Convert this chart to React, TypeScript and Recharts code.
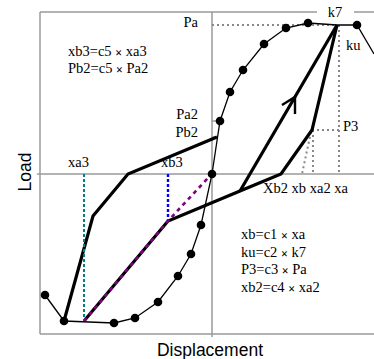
import React from "react";
import {
  ComposedChart,
  XAxis,
  YAxis,
  Line,
  ReferenceLine,
  ReferenceDot,
} from "recharts";

// skeleton curve points with markers (displacement, load)
const backbone = [
  { x: -167, y: -121 },
  { x: -148, y: -147 },
  { x: -98, y: -149 },
  { x: -77, y: -144 },
  { x: -54, y: -128 },
  { x: -34, y: -102 },
  { x: -21, y: -80 },
  { x: -11, y: -51 },
  { x: 0, y: 0 },
  { x: 8, y: 53 },
  { x: 18, y: 82 },
  { x: 31, y: 104 },
  { x: 52, y: 130 },
  { x: 74, y: 146 },
  { x: 96, y: 151 },
  { x: 145, y: 149 },
];
const peak = { x: 125, y: 149 };
const tail = { x: 162, y: 120 };

const leftLoop = [
  { x: -148, y: -147 },
  { x: -119, y: -42 },
  { x: -84, y: 0 },
  { x: 5, y: 37 },
];
const mainPath = [
  { x: -128, y: -147 },
  { x: -44, y: -47 },
  { x: 28, y: -17 },
  { x: 69, y: 0 },
  { x: 100, y: 44 },
  { x: 125, y: 149 },
];
const reload = [
  { x: 28, y: -17 },
  { x: 125, y: 149 },
];
const arrowHead = [
  { x: 70, y: 69 },
  { x: 83, y: 77 },
  { x: 83, y: 60 },
];

const tealGuide = [
  { x: -128, y: 0 },
  { x: -128, y: -147 },
];
const blueGuide = [
  { x: -44, y: 0 },
  { x: -44, y: -47 },
];
const purpleGuide = [
  { x: -128, y: -147 },
  { x: -44, y: -47 },
  { x: -4, y: -4 },
];
const grayGuides = [
  [
    { x: 0, y: 149 },
    { x: 125, y: 149 },
  ],
  [
    { x: 127, y: 149 },
    { x: 127, y: 0 },
  ],
  [
    { x: 100, y: 44 },
    { x: 127, y: 44 },
  ],
  [
    { x: 101, y: 44 },
    { x: 101, y: 0 },
  ],
  [
    { x: 99, y: 42 },
    { x: 90, y: 0 },
  ],
];

// point labels: text, anchor point, text-anchor
const pointLabels = [
  { text: "Pa", x: -14, y: 147, anchor: "end" },
  { text: "k7", x: 123, y: 157, anchor: "middle" },
  { text: "ku", x: 134, y: 124, anchor: "start" },
  { text: "P3", x: 131, y: 43, anchor: "start" },
  { text: "Pa2", x: -14, y: 55, anchor: "end" },
  { text: "Pb2", x: -14, y: 37, anchor: "end" },
  { text: "xa3", x: -144, y: 7, anchor: "start" },
  { text: "xb3", x: -51, y: 7, anchor: "start" },
  { text: "Xb2 xb xa2 xa", x: 51, y: -19, anchor: "start" },
];

const formulas = [
  { lhs: "xb3=c5", rhs: "xa3", x: -144, y: 118 },
  { lhs: "Pb2=c5", rhs: "Pa2", x: -144, y: 101 },
  { lhs: "xb=c1", rhs: "xa", x: 29, y: -65 },
  { lhs: "ku=c2", rhs: "k7", x: 29, y: -83 },
  { lhs: "P3=c3", rhs: "Pa", x: 29, y: -100 },
  { lhs: "xb2=c4", rhs: "xa2", x: 29, y: -118 },
];

const serif = '"Liberation Serif", "Times New Roman", serif';
const sans = '"Liberation Sans", Arial, sans-serif';
const gray = "#9a9a9a";

const plainLabel = (text: string, anchor: string) => (props: any) => (
  <text
    x={props.viewBox.x}
    y={props.viewBox.y}
    textAnchor={anchor}
    fontFamily={serif}
    fontSize={14.5}
    fill="#000"
  >
    {text}
  </text>
);

const formulaLabel = (lhs: string, rhs: string) => (props: any) => (
  <text
    x={props.viewBox.x}
    y={props.viewBox.y}
    fontFamily={serif}
    fontSize={14.5}
    fill="#000"
  >
    {`${lhs} `}
    <tspan fontSize={12} fontWeight="bold" dy={1}>
      ×
    </tspan>
    <tspan dy={-1}>{` ${rhs}`}</tspan>
  </text>
);

const loadLabel = (props: any) => {
  const { x, y } = props.viewBox;
  return (
    <text
      x={x}
      y={y}
      textAnchor="middle"
      dominantBaseline="central"
      transform={`rotate(-90 ${x} ${y})`}
      fontFamily={sans}
      fontSize={17.5}
      fill="#000"
    >
      Load
    </text>
  );
};

const dispLabel = (props: any) => (
  <text
    x={props.viewBox.x}
    y={props.viewBox.y}
    textAnchor="middle"
    fontFamily={sans}
    fontSize={17.5}
    fill="#000"
  >
    Displacement
  </text>
);

export default function App() {
  const skeleton = [...backbone.slice(0, 15), peak, backbone[15], tail];
  return (
    <div
      style={{
        position: "fixed",
        left: 0,
        top: 0,
        width: 374,
        height: 359,
        background: "#fff",
      }}
    >
      <ComposedChart
        width={374}
        height={359}
        margin={{ top: 12, right: 0, bottom: 25, left: 40 }}
      >
        <XAxis
          type="number"
          dataKey="x"
          domain={[-172, 162]}
          allowDataOverflow
          hide
        />
        <YAxis
          type="number"
          dataKey="y"
          domain={[-160, 162]}
          allowDataOverflow
          hide
        />

        {/* frame and zero axes */}
        <ReferenceLine
          segment={[{ x: -172, y: -160 }, { x: -172, y: 162 }]}
          stroke={gray}
          strokeWidth={1.5}
          ifOverflow="visible"
        />
        <ReferenceLine
          segment={[{ x: -172, y: -160 }, { x: 162, y: -160 }]}
          stroke={gray}
          strokeWidth={1.5}
          ifOverflow="visible"
        />
        <ReferenceLine
          segment={[{ x: -172, y: 162 }, { x: 105, y: 162 }]}
          stroke={gray}
          strokeWidth={1.5}
          ifOverflow="visible"
        />
        <ReferenceLine
          segment={[{ x: 142, y: 162 }, { x: 162, y: 162 }]}
          stroke={gray}
          strokeWidth={1.5}
          ifOverflow="visible"
        />
        <ReferenceLine
          segment={[{ x: 0, y: -163 }, { x: 0, y: 162 }]}
          stroke={gray}
          strokeWidth={1.5}
          ifOverflow="visible"
        />
        <ReferenceLine
          segment={[{ x: -175, y: 0 }, { x: 162, y: 0 }]}
          stroke={gray}
          strokeWidth={1.5}
          ifOverflow="visible"
        />
        <ReferenceLine
          segment={[{ x: 0, y: 53 }, { x: 8, y: 53 }]}
          stroke={gray}
          strokeWidth={1.5}
        />
        <ReferenceLine
          segment={[{ x: 0, y: 37 }, { x: 5, y: 37 }]}
          stroke={gray}
          strokeWidth={1.5}
        />

        {grayGuides.map((g, i) => (
          <Line
            key={`g${i}`}
            data={g}
            dataKey="y"
            type="linear"
            stroke="#888"
            strokeWidth={2}
            strokeDasharray="2 3"
            dot={false}
            activeDot={false}
            isAnimationActive={false}
          />
        ))}

        <Line
          data={skeleton}
          dataKey="y"
          type="linear"
          stroke="#000"
          strokeWidth={1.3}
          dot={false}
          activeDot={false}
          isAnimationActive={false}
        />
        <Line
          data={backbone}
          dataKey="y"
          type="linear"
          stroke="none"
          dot={{ r: 4.3, fill: "#000", stroke: "none" }}
          activeDot={false}
          isAnimationActive={false}
        />

        {[leftLoop, mainPath, reload].map((d, i) => (
          <Line
            key={`t${i}`}
            data={d}
            dataKey="y"
            type="linear"
            stroke="#000"
            strokeWidth={3.2}
            dot={false}
            activeDot={false}
            isAnimationActive={false}
          />
        ))}
        <Line
          data={arrowHead}
          dataKey="y"
          type="linear"
          stroke="#000"
          strokeWidth={2.4}
          dot={false}
          activeDot={false}
          isAnimationActive={false}
        />

        <Line
          data={tealGuide}
          dataKey="y"
          type="linear"
          stroke="#008080"
          strokeWidth={2}
          strokeDasharray="3 2"
          dot={false}
          activeDot={false}
          isAnimationActive={false}
        />
        <Line
          data={blueGuide}
          dataKey="y"
          type="linear"
          stroke="#0000ff"
          strokeWidth={2.4}
          strokeDasharray="3 2"
          dot={false}
          activeDot={false}
          isAnimationActive={false}
        />
        <Line
          data={purpleGuide}
          dataKey="y"
          type="linear"
          stroke="#800080"
          strokeWidth={2.6}
          strokeDasharray="4 4"
          dot={false}
          activeDot={false}
          isAnimationActive={false}
        />

        {pointLabels.map((l) => (
          <ReferenceDot
            key={l.text}
            x={l.x}
            y={l.y}
            r={0}
            ifOverflow="visible"
            label={plainLabel(l.text, l.anchor)}
          />
        ))}
        {formulas.map((f) => (
          <ReferenceDot
            key={f.lhs}
            x={f.x}
            y={f.y}
            r={0}
            ifOverflow="visible"
            label={formulaLabel(f.lhs, f.rhs)}
          />
        ))}
        <ReferenceDot x={-187} y={2} r={0} ifOverflow="visible" label={loadLabel} />
        <ReferenceDot x={-2} y={-182} r={0} ifOverflow="visible" label={dispLabel} />
      </ComposedChart>
    </div>
  );
}
